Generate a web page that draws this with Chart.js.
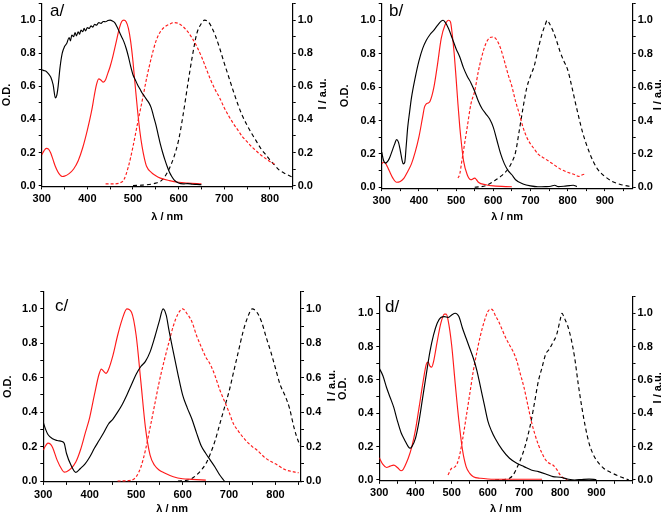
<!DOCTYPE html>
<html>
<head>
<meta charset="utf-8">
<script src="https://cdn.jsdelivr.net/npm/chart.js@4.4.0/dist/chart.umd.min.js"></script>
<style>
  html, body { margin: 0; padding: 0; background: #fff; }
  body { width: 665px; height: 516px; position: relative; overflow: hidden; }
  .panel { position: absolute; }
</style>
</head>
<body>
<div class="panel" id="pa"><canvas id="ca"></canvas></div>
<div class="panel" id="pb"><canvas id="cb"></canvas></div>
<div class="panel" id="pc"><canvas id="cc"></canvas></div>
<div class="panel" id="pd"><canvas id="cd"></canvas></div>
<script>
// ---- tick values ----
var odTicks = [0, 0.1, 0.2, 0.3, 0.4, 0.5, 0.6, 0.7, 0.8, 0.9, 1.0, 1.1];
var odLabels = [0, 0.2, 0.4, 0.6, 0.8, 1.0];
var nmTicksA = [300, 350, 400, 450, 500, 550, 600, 650, 700, 750, 800, 850];
var nmLabelsA = [300, 400, 500, 600, 700, 800];
var nmTicksB = [300, 350, 400, 450, 500, 550, 600, 650, 700, 750, 800, 850, 900, 950];
var nmLabelsB = [300, 400, 500, 600, 700, 800, 900];
var nmTicksD = [300, 350, 400, 450, 500, 550, 600, 650, 700, 750, 800, 850, 900, 950, 1000];

// ---- panel a/ ----
var aBlackAbs = [[300,0.70],[305,0.695],[310,0.69],[315,0.675],[320,0.655],[325,0.61],[330,0.53],[333,0.545],[336,0.6],[340,0.71],[345,0.8],[350,0.84],[355,0.86],[360,0.895],[363,0.875],[366,0.91],[370,0.9],[373,0.925],[376,0.905],[380,0.93],[383,0.915],[386,0.94],[390,0.93],[393,0.95],[396,0.935],[400,0.955],[404,0.95],[408,0.965],[412,0.958],[416,0.975],[420,0.97],[425,0.985],[430,0.98],[435,0.992],[440,0.99],[445,0.998],[450,1.0],[455,0.995],[460,0.985],[465,0.96],[470,0.93],[475,0.9],[480,0.87],[485,0.83],[490,0.78],[495,0.72],[500,0.67],[505,0.64],[510,0.61],[515,0.585],[520,0.56],[525,0.54],[530,0.52],[535,0.5],[540,0.47],[545,0.42],[550,0.37],[555,0.31],[560,0.25],[565,0.2],[570,0.155],[575,0.115],[580,0.08],[585,0.055],[590,0.035],[600,0.015],[610,0.01],[620,0.012],[630,0.008],[640,0.007],[650,0.005]];
var aRedAbs = [[300,0.185],[305,0.21],[310,0.225],[315,0.22],[320,0.195],[325,0.155],[330,0.115],[335,0.085],[340,0.065],[345,0.055],[350,0.057],[360,0.072],[370,0.1],[380,0.15],[390,0.23],[400,0.335],[410,0.46],[415,0.54],[420,0.61],[425,0.645],[430,0.637],[435,0.625],[440,0.64],[445,0.68],[450,0.72],[455,0.77],[460,0.83],[465,0.89],[470,0.95],[475,0.99],[480,1.0],[485,0.99],[490,0.95],[495,0.87],[500,0.75],[505,0.6],[510,0.455],[515,0.33],[520,0.235],[525,0.165],[530,0.115],[540,0.08],[550,0.06],[560,0.045],[580,0.03],[600,0.02],[620,0.015],[650,0.01]];
var aRedEm = [[440,0.01],[460,0.01],[470,0.015],[480,0.035],[490,0.115],[500,0.235],[510,0.375],[520,0.51],[530,0.65],[540,0.77],[550,0.87],[560,0.93],[570,0.96],[580,0.975],[590,0.985],[600,0.98],[610,0.96],[620,0.93],[630,0.89],[640,0.84],[650,0.78],[660,0.71],[670,0.64],[680,0.58],[690,0.53],[700,0.47],[710,0.42],[720,0.375],[730,0.335],[740,0.295],[750,0.265],[760,0.235],[770,0.21],[780,0.185],[790,0.165],[800,0.145],[810,0.13]];
var aBlackEm = [[500,0.0],[520,0.003],[540,0.008],[550,0.015],[560,0.025],[570,0.055],[580,0.105],[590,0.175],[600,0.275],[610,0.43],[620,0.61],[630,0.78],[640,0.92],[650,0.98],[657,1.0],[665,0.99],[672,0.96],[680,0.91],[690,0.83],[700,0.74],[710,0.655],[720,0.57],[730,0.49],[740,0.42],[750,0.365],[760,0.315],[770,0.27],[780,0.225],[790,0.19],[800,0.155],[810,0.125],[820,0.095],[835,0.07],[850,0.05]];

// ---- panel b/ ----
var bBlackAbs = [[300,0.21],[305,0.16],[310,0.145],[320,0.17],[330,0.23],[335,0.26],[340,0.285],[345,0.27],[350,0.22],[355,0.16],[358,0.14],[362,0.15],[366,0.25],[370,0.36],[375,0.45],[380,0.535],[390,0.655],[400,0.755],[410,0.83],[420,0.88],[430,0.915],[440,0.94],[450,0.97],[460,0.995],[465,1.0],[470,0.99],[480,0.95],[490,0.89],[500,0.83],[510,0.78],[520,0.715],[530,0.665],[540,0.625],[550,0.575],[560,0.515],[570,0.47],[580,0.44],[590,0.41],[600,0.36],[610,0.28],[620,0.2],[630,0.14],[640,0.1],[650,0.075],[660,0.045],[680,0.02],[700,0.008],[720,0.003],[740,0.004],[755,0.006],[765,0.012],[775,0.004],[790,0.006],[805,0.01],[815,0.012],[825,0.004]];
var bRedAbs = [[300,0.14],[305,0.15],[310,0.145],[320,0.1],[330,0.055],[340,0.03],[350,0.035],[360,0.055],[370,0.095],[380,0.14],[390,0.21],[400,0.3],[410,0.42],[415,0.48],[420,0.5],[425,0.505],[430,0.515],[440,0.595],[450,0.735],[460,0.89],[470,0.97],[480,1.0],[485,0.99],[490,0.91],[495,0.8],[500,0.655],[505,0.5],[510,0.36],[515,0.25],[520,0.16],[530,0.075],[540,0.045],[550,0.055],[555,0.045],[560,0.03],[580,0.015],[600,0.008],[650,0.003]];
var bRedEm = [[505,0.055],[510,0.08],[515,0.15],[520,0.22],[530,0.36],[540,0.5],[550,0.575],[560,0.695],[570,0.79],[580,0.86],[590,0.895],[600,0.9],[610,0.88],[620,0.83],[630,0.755],[640,0.675],[650,0.605],[660,0.515],[670,0.44],[680,0.36],[690,0.3],[700,0.26],[710,0.23],[720,0.2],[740,0.17],[760,0.14],[780,0.11],[800,0.09],[820,0.075],[830,0.065],[840,0.075],[850,0.08]];
var bBlackEm = [[550,0.0],[580,0.01],[600,0.035],[620,0.065],[640,0.11],[650,0.15],[660,0.21],[670,0.34],[680,0.475],[690,0.595],[700,0.665],[710,0.725],[720,0.82],[730,0.91],[740,0.975],[745,1.0],[750,0.985],[760,0.94],[770,0.88],[780,0.81],[790,0.755],[800,0.705],[810,0.615],[820,0.515],[830,0.42],[840,0.33],[850,0.26],[860,0.2],[870,0.15],[880,0.11],[890,0.085],[900,0.065],[920,0.035],[940,0.018],[960,0.008],[975,0.004]];

// ---- panel c/ ----
var cBlackAbs = [[300,0.34],[305,0.3],[310,0.27],[320,0.245],[330,0.235],[340,0.23],[345,0.22],[350,0.16],[360,0.09],[370,0.05],[380,0.073],[390,0.1],[400,0.14],[410,0.19],[420,0.235],[430,0.28],[440,0.33],[450,0.36],[460,0.4],[470,0.445],[480,0.5],[490,0.56],[500,0.62],[510,0.665],[520,0.695],[530,0.75],[540,0.835],[550,0.93],[558,1.0],[565,0.96],[570,0.885],[580,0.75],[590,0.62],[600,0.5],[610,0.425],[620,0.36],[630,0.28],[640,0.205],[650,0.16],[660,0.12],[670,0.08],[680,0.035],[690,0.0]];
var cRedAbs = [[300,0.18],[305,0.205],[310,0.22],[315,0.215],[320,0.195],[330,0.12],[340,0.067],[345,0.052],[350,0.054],[360,0.073],[370,0.11],[380,0.18],[390,0.275],[400,0.37],[410,0.5],[420,0.62],[425,0.65],[430,0.637],[435,0.625],[440,0.645],[450,0.73],[460,0.845],[470,0.94],[480,1.0],[490,0.98],[500,0.845],[510,0.58],[520,0.31],[530,0.15],[540,0.09],[550,0.063],[560,0.048],[580,0.025],[600,0.013],[620,0.01],[650,0.005]];
var cRedEm = [[460,0.0],[490,0.005],[500,0.025],[510,0.08],[520,0.18],[530,0.31],[540,0.445],[550,0.58],[560,0.695],[570,0.8],[580,0.9],[590,0.97],[600,1.0],[610,0.97],[620,0.925],[630,0.845],[640,0.78],[650,0.72],[660,0.675],[670,0.61],[680,0.53],[690,0.465],[700,0.4],[710,0.33],[720,0.29],[730,0.255],[740,0.225],[750,0.2],[760,0.18],[780,0.13],[800,0.1],[820,0.067],[840,0.053],[850,0.048]];
var cBlackEm = [[590,0.0],[610,0.005],[620,0.015],[630,0.035],[640,0.063],[650,0.1],[660,0.16],[670,0.235],[680,0.33],[690,0.425],[700,0.52],[710,0.635],[720,0.75],[730,0.865],[740,0.95],[750,1.0],[760,0.98],[770,0.925],[780,0.835],[790,0.75],[800,0.655],[810,0.56],[820,0.5],[830,0.425],[840,0.31],[850,0.225],[855,0.2]];

// ---- panel d/ ----
var dBlackAbs = [[300,0.67],[310,0.625],[320,0.555],[330,0.495],[340,0.435],[350,0.355],[360,0.285],[370,0.24],[380,0.2],[385,0.19],[390,0.2],[400,0.25],[410,0.355],[420,0.495],[430,0.635],[440,0.77],[450,0.87],[460,0.94],[470,0.975],[480,0.98],[490,0.975],[500,0.99],[510,1.0],[520,0.98],[530,0.91],[540,0.85],[550,0.79],[560,0.73],[570,0.655],[580,0.555],[590,0.455],[600,0.355],[610,0.295],[620,0.25],[640,0.18],[660,0.13],[680,0.1],[700,0.08],[720,0.06],[740,0.05],[760,0.036],[780,0.02],[800,0.016],[820,0.006],[840,0.0],[860,0.003],[880,0.005],[900,0.002]];
var dRedAbs = [[300,0.133],[310,0.093],[320,0.075],[330,0.083],[340,0.089],[350,0.075],[360,0.055],[365,0.06],[370,0.08],[380,0.13],[390,0.2],[400,0.3],[410,0.435],[420,0.575],[430,0.695],[435,0.707],[440,0.683],[445,0.677],[450,0.71],[460,0.83],[470,0.94],[480,0.995],[485,0.995],[490,0.96],[500,0.81],[510,0.575],[520,0.355],[530,0.18],[540,0.08],[550,0.04],[560,0.02],[580,0.01],[600,0.006],[650,0.004],[700,0.004],[750,0.004]];
var dRedEm = [[490,0.03],[500,0.07],[510,0.08],[520,0.13],[530,0.24],[540,0.375],[550,0.515],[560,0.655],[570,0.77],[580,0.87],[590,0.95],[600,1.01],[608,1.025],[615,1.015],[620,0.99],[630,0.95],[640,0.9],[650,0.85],[660,0.81],[670,0.77],[680,0.715],[690,0.635],[700,0.555],[710,0.455],[720,0.355],[730,0.275],[740,0.21],[750,0.16],[760,0.12],[770,0.1],[780,0.09],[790,0.065],[800,0.03],[810,0.01],[820,0.0]];
var dBlackEm = [[620,0.0],[650,0.004],[660,0.01],[670,0.03],[680,0.07],[690,0.12],[700,0.18],[710,0.26],[720,0.355],[730,0.475],[740,0.595],[750,0.675],[760,0.755],[770,0.785],[780,0.825],[790,0.87],[800,0.96],[805,1.0],[810,0.98],[815,0.955],[820,0.93],[830,0.85],[840,0.735],[850,0.575],[860,0.435],[870,0.315],[880,0.22],[890,0.16],[900,0.12],[920,0.07],[940,0.045],[960,0.025],[980,0.008],[990,0.0]];

var FONT = '"Liberation Sans", Arial, Helvetica, sans-serif';
var RED = '#ff1a1a';
var BLACK = '#000000';

// page positions of each panel (canvas box + plot area), in px
var panels = [
  { key: 'a', tag: 'a/', box: { left: 0, right: 340, bottom: 232 },
    area: { left: 41.7, right: 292.7, top: 1.6, bottom: 186.4 },
    xMax: 850, xTicks: nmTicksA, xLabels: nmLabelsA,
    leftTitleX: 7, rightTitleX: 323, bottomTitleY: 216.5, tagPos: { x: 50, y: 11 },
    series: [aBlackAbs, aRedAbs, aRedEm, aBlackEm] },
  { key: 'b', tag: 'b/', box: { left: 336, right: 665, bottom: 232 },
    area: { left: 381.7, right: 632.7, top: 1.4, bottom: 188.1 },
    xMax: 975, xTicks: nmTicksB, xLabels: nmLabelsB,
    leftTitleX: 345, rightTitleX: 658, bottomTitleY: 216.5, tagPos: { x: 389, y: 11 },
    series: [bBlackAbs, bRedAbs, bRedEm, bBlackEm] },
  { key: 'c', tag: 'c/', box: { left: 0, right: 340, bottom: 516 },
    area: { left: 43.3, right: 301, top: 289.3, bottom: 481.9 },
    xMax: 855, xTicks: nmTicksA, xLabels: nmLabelsA,
    leftTitleX: 8, rightTitleX: 332, bottomTitleY: 508.5, tagPos: { x: 55, y: 306 },
    series: [cBlackAbs, cRedAbs, cRedEm, cBlackEm] },
  { key: 'd', tag: 'd/', box: { left: 336, right: 665, bottom: 516 },
    area: { left: 379.3, right: 632.5, top: 294.9, bottom: 480.8 },
    xMax: 1000, xTicks: nmTicksD, xLabels: nmLabelsB,
    leftTitleX: 343, rightTitleX: 658, bottomTitleY: 509, tagPos: { x: 385, y: 307 },
    series: [dBlackAbs, dRedAbs, dRedEm, dBlackEm] }
];

function toPoints(pairs) {
  return pairs.map(function (p) { return { x: p[0], y: p[1] }; });
}

function hasLabel(list, v) {
  return list.some(function (l) { return Math.abs(l - v) < 1e-6; });
}

function tickFont(list) {
  return function (ctx) {
    if (ctx.tick && !hasLabel(list, ctx.tick.value)) return { family: FONT, size: 1 };
    return { family: FONT, size: 11, weight: 'bold' };
  };
}

function lineSet(pairs, color, dash, axis) {
  return {
    data: toPoints(pairs),
    yAxisID: axis,
    borderColor: color,
    borderWidth: 1.15,
    borderDash: dash,
    pointRadius: 0,
    fill: false,
    cubicInterpolationMode: 'monotone'
  };
}

// right-hand titles read bottom-to-top, plus the panel tags
function extrasPlugin(p, top) {
  return {
    id: 'extras' + p.key,
    afterDraw: function (chart) {
      var ctx = chart.ctx;
      ctx.save();
      ctx.fillStyle = '#000';
      ctx.font = 'bold 11px ' + FONT;
      ctx.textAlign = 'center';
      ctx.textBaseline = 'middle';
      ctx.translate(p.rightTitleX - p.box.left, (p.area.top + p.area.bottom) / 2 - top);
      ctx.rotate(-Math.PI / 2);
      ctx.fillText('I / a.u.', 0, 0);
      ctx.restore();

      ctx.save();
      ctx.fillStyle = '#000';
      ctx.font = '17px ' + FONT;
      ctx.textAlign = 'left';
      ctx.textBaseline = 'middle';
      ctx.fillText(p.tag, p.tagPos.x - p.box.left, p.tagPos.y - top);
      ctx.restore();
    }
  };
}

function makeChart(p) {
  var holder = document.getElementById('p' + p.key);
  var top = Math.max(0, Math.floor(p.area.top - 1));
  holder.style.left = p.box.left + 'px';
  holder.style.top = top + 'px';
  holder.style.width = (p.box.right - p.box.left) + 'px';
  holder.style.height = (p.box.bottom - top) + 'px';

  var lh = 11 * 1.2;
  var axisBase = {
    type: 'linear',
    min: -0.005,
    max: 1.1,
    border: { display: true, color: BLACK, width: 1.2 },
    grid: { drawOnChartArea: false, drawTicks: true, tickLength: 3, tickColor: BLACK, tickWidth: 1 },
    afterBuildTicks: function (scale) {
      scale.ticks = odTicks.map(function (v) { return { value: v }; });
    }
  };

  var yLeft = Object.assign({}, axisBase, {
    position: 'left',
    ticks: {
      color: BLACK, padding: 3, font: tickFont(odLabels),
      callback: function (v) { return hasLabel(odLabels, v) ? v.toFixed(1) : ''; }
    },
    title: {
      display: true, text: 'O.D.', color: BLACK,
      font: { family: FONT, size: 11, weight: 'bold' },
      padding: { top: p.leftTitleX - p.box.left - lh / 2, bottom: 0 }
    },
    afterFit: function (scale) { scale.width = p.area.left - p.box.left; }
  });

  var yRight = Object.assign({}, axisBase, {
    position: 'right',
    ticks: {
      color: BLACK, padding: 2, font: tickFont(odLabels),
      callback: function (v) { return hasLabel(odLabels, v) ? v.toFixed(1) : ''; }
    },
    afterFit: function (scale) { scale.width = p.box.right - p.area.right; }
  });

  var xAxis = {
    type: 'linear',
    position: 'bottom',
    min: 300,
    max: p.xMax,
    border: { display: true, color: BLACK, width: 1.2 },
    grid: { drawOnChartArea: false, drawTicks: true, tickLength: 3, tickColor: BLACK, tickWidth: 1 },
    ticks: {
      color: BLACK, padding: 3, maxRotation: 0, autoSkip: false, font: tickFont(p.xLabels),
      callback: function (v) { return hasLabel(p.xLabels, v) ? String(v) : ''; }
    },
    afterBuildTicks: function (scale) {
      scale.ticks = p.xTicks.map(function (v) { return { value: v }; });
    },
    title: {
      display: true, text: 'λ / nm', color: BLACK,
      font: { family: FONT, size: 11, weight: 'bold' },
      padding: { top: 0, bottom: p.box.bottom - p.bottomTitleY - lh / 2 }
    },
    afterFit: function (scale) { scale.height = p.box.bottom - p.area.bottom; }
  };

  return new Chart(document.getElementById('c' + p.key), {
    type: 'line',
    data: {
      datasets: [
        lineSet(p.series[0], BLACK, [], 'y'),
        lineSet(p.series[1], RED, [], 'y'),
        lineSet(p.series[2], RED, [3, 2], 'y2'),
        lineSet(p.series[3], BLACK, [4, 3], 'y2')
      ]
    },
    options: {
      responsive: true,
      maintainAspectRatio: false,
      animation: false,
      layout: { padding: { top: p.area.top - top, left: 0, right: 0, bottom: 0 } },
      plugins: { legend: { display: false }, tooltip: { enabled: false } },
      scales: { x: xAxis, y: yLeft, y2: yRight }
    },
    plugins: [extrasPlugin(p, top)]
  });
}

panels.forEach(makeChart);
</script>
</body>
</html>
